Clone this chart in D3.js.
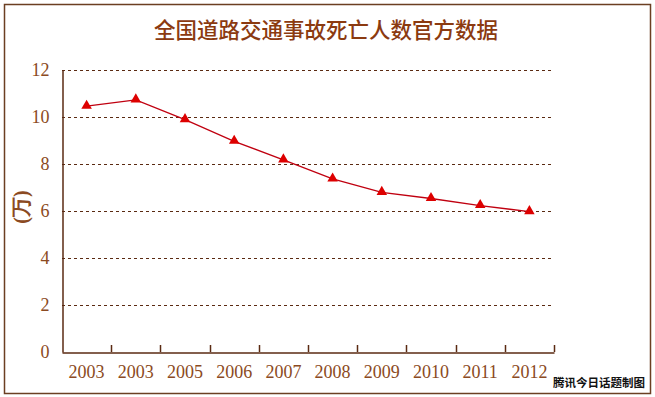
<!DOCTYPE html>
<html>
<head>
<meta charset="utf-8">
<script src="https://cdn.jsdelivr.net/npm/d3@7"></script>
<style>
html,body{margin:0;padding:0;background:#fff;}
svg{display:block;}
</style>
</head>
<body>
<svg id="chart" width="655" height="397"></svg>
<script>
const title = "全国道路交通事故死亡人数官方数据";
const categories = ["2003","2003","2005","2006","2007","2008","2009","2010","2011","2012"];
const values = [10.44, 10.71, 9.87, 8.95, 8.16, 7.35, 6.78, 6.52, 6.22, 5.96];
const yTicks = [0, 2, 4, 6, 8, 10, 12];
const yLabel = "(万)";
const credit = "腾讯今日话题制图";

(function(){
const svg = d3.select("#chart");
const brown = "#5a2a12";
const textBrown = "#8b4a22";
const serif = "'Liberation Serif','DejaVu Serif',serif";

svg.append("rect").attr("x",4.5).attr("y",4.5).attr("width",646).attr("height",389)
  .attr("fill","#fff").attr("stroke","#6b3f22").attr("stroke-width",1.5);

const pLeft = 62, pRight = 554, pTop = 69.5, pBottom = 352;
const x = d3.scaleBand().domain(d3.range(categories.length)).range([pLeft,pRight]).padding(0);
const y = d3.scaleLinear().domain([0,12]).range([pBottom,pTop]);

svg.append("text").attr("x",326).attr("y",37.5).attr("text-anchor","middle")
  .attr("font-family","'Noto Sans CJK SC',sans-serif").attr("font-size",21.5).attr("font-weight",500)
  .attr("fill","#8b3a10").text(title);

svg.append("g").selectAll("line").data(yTicks.filter(d=>d>0)).join("line")
  .attr("x1",pLeft).attr("x2",pRight).attr("y1",d=>Math.round(y(d))+0.5).attr("y2",d=>Math.round(y(d))+0.5)
  .attr("stroke",brown).attr("stroke-width",1).attr("stroke-dasharray","3,3");

const yAxis = d3.axisLeft(y).tickValues(yTicks).tickSize(0).tickPadding(13);
const gy = svg.append("g").attr("transform",`translate(${pLeft+0.5},0)`).call(yAxis);
gy.select(".domain").attr("stroke",brown).attr("stroke-width",1.5);
gy.selectAll("text").attr("font-family",serif).attr("font-size",18).attr("fill",textBrown);

const xAxis = d3.axisBottom(x).tickSize(0).tickFormat(i=>categories[i]).tickPadding(13);
const gx = svg.append("g").attr("transform",`translate(0,${pBottom+0.5})`).call(xAxis);
gx.select(".domain").attr("stroke",brown).attr("stroke-width",1.5);
gx.selectAll("text").attr("font-family",serif).attr("font-size",18).attr("fill",textBrown);
svg.append("g").selectAll("line").data(d3.range(1,categories.length+1)).join("line")
  .attr("x1",i=>Math.round(pLeft+i*x.step())+0.5).attr("x2",i=>Math.round(pLeft+i*x.step())+0.5)
  .attr("y1",pBottom-7).attr("y2",pBottom)
  .attr("stroke",brown).attr("stroke-width",1.5);

svg.append("text").attr("transform","translate(28,207) rotate(-90)").attr("text-anchor","middle")
  .attr("font-family",serif).attr("font-size",20).attr("font-weight","bold").attr("fill",textBrown).text(yLabel);

const line = d3.line().x((d,i)=>x(i)+x.bandwidth()/2).y(d=>y(d));
svg.append("path").datum(values).attr("d",line).attr("fill","none")
  .attr("stroke","#c00010").attr("stroke-width",1.3);

const tri = d3.symbol().type(d3.symbolTriangle).size(48);
svg.append("g").selectAll("path").data(values).join("path")
  .attr("d",tri)
  .attr("transform",(d,i)=>`translate(${x(i)+x.bandwidth()/2},${y(d)-0.5})`)
  .attr("fill","#dd0000");

svg.append("text").attr("x",645).attr("y",387).attr("text-anchor","end")
  .attr("font-family","'Noto Sans CJK SC',sans-serif").attr("font-size",11.5).attr("font-weight","bold")
  .attr("fill","#111").text(credit);
})();
</script>
</body>
</html>
